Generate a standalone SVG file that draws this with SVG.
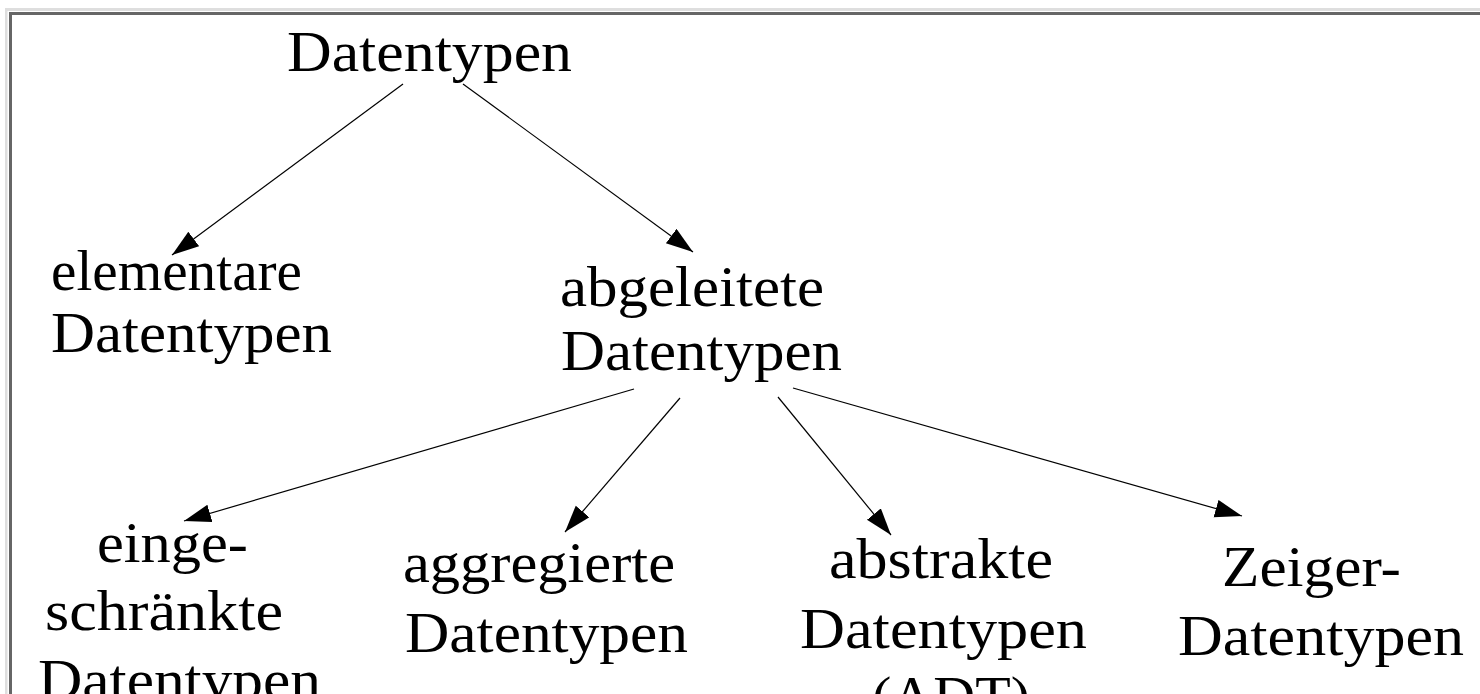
<svg xmlns="http://www.w3.org/2000/svg" width="1480" height="694" viewBox="0 0 1480 694">
  <style>
    .lbl { font-family: "Liberation Serif", "Times New Roman", serif; font-size: 58px; fill: #000; }
    .edge { stroke: #000; stroke-width: 1.2; fill: none; marker-end: url(#head); }
  </style>
  <defs>
    <marker id="head" markerUnits="userSpaceOnUse" markerWidth="28" markerHeight="20" refX="27" refY="9" orient="auto">
      <path d="M0,0 L27,9 L0,18 Z" fill="#000"/>
    </marker>
  </defs>

  <rect x="0" y="0" width="1480" height="694" fill="#fff"/>

  <!-- inset frame (top and left edges) -->
  <g id="frame">
    <rect x="5" y="8" width="1475" height="3" fill="#dedede"/>
    <rect x="5" y="8" width="2.5" height="686" fill="#dedede"/>
    <rect x="9" y="12" width="1471" height="3" fill="#666"/>
    <rect x="9" y="12" width="3" height="682" fill="#666"/>
  </g>

  <g id="connectors">
    <line class="edge" x1="403" y1="84" x2="172" y2="255"/>
    <line class="edge" x1="463" y1="84" x2="693" y2="252"/>
    <line class="edge" x1="634" y1="389" x2="184" y2="521"/>
    <line class="edge" x1="680" y1="398" x2="565" y2="532"/>
    <line class="edge" x1="778" y1="397" x2="891" y2="535"/>
    <line class="edge" x1="793" y1="388" x2="1242" y2="516"/>
  </g>

  <g id="n-datentypen">
    <text class="lbl" x="287" y="71" textLength="285" lengthAdjust="spacingAndGlyphs">Datentypen</text>
  </g>
  <g id="n-elementare">
    <text class="lbl" x="51" y="290" textLength="251" lengthAdjust="spacingAndGlyphs">elementare</text>
    <text class="lbl" x="51" y="352" textLength="281" lengthAdjust="spacingAndGlyphs">Datentypen</text>
  </g>
  <g id="n-abgeleitete">
    <text class="lbl" x="560" y="306" textLength="264" lengthAdjust="spacingAndGlyphs">abgeleitete</text>
    <text class="lbl" x="561" y="370" textLength="281" lengthAdjust="spacingAndGlyphs">Datentypen</text>
  </g>
  <g id="n-eingeschraenkte">
    <text class="lbl" x="97" y="562" textLength="151" lengthAdjust="spacingAndGlyphs">einge-</text>
    <text class="lbl" x="45" y="630" textLength="238" lengthAdjust="spacingAndGlyphs">schränkte</text>
    <text class="lbl" x="38" y="699" textLength="283" lengthAdjust="spacingAndGlyphs">Datentypen</text>
  </g>
  <g id="n-aggregierte">
    <text class="lbl" x="403" y="582" textLength="272" lengthAdjust="spacingAndGlyphs">aggregierte</text>
    <text class="lbl" x="405" y="652" textLength="283" lengthAdjust="spacingAndGlyphs">Datentypen</text>
  </g>
  <g id="n-abstrakte">
    <text class="lbl" x="829" y="578" textLength="224" lengthAdjust="spacingAndGlyphs">abstrakte</text>
    <text class="lbl" x="800" y="648" textLength="287" lengthAdjust="spacingAndGlyphs">Datentypen</text>
    <text class="lbl" x="872" y="716" textLength="158" lengthAdjust="spacingAndGlyphs">(ADT)</text>
  </g>
  <g id="n-zeiger">
    <text class="lbl" x="1222" y="586" textLength="179" lengthAdjust="spacingAndGlyphs">Zeiger-</text>
    <text class="lbl" x="1178" y="655" textLength="286" lengthAdjust="spacingAndGlyphs">Datentypen</text>
  </g>
</svg>
